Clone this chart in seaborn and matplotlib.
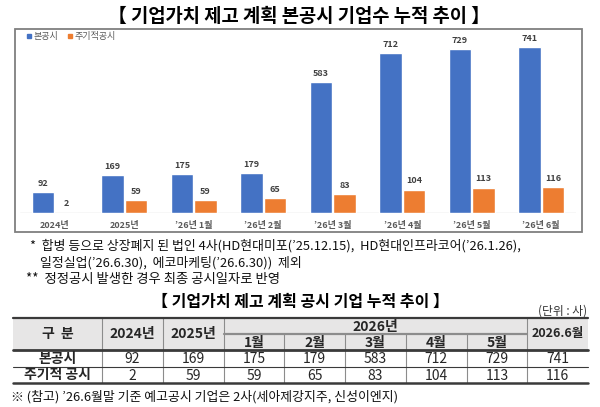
import matplotlib
matplotlib.use("Agg")
import matplotlib.pyplot as plt
import matplotlib.patches as mpatches
from matplotlib.lines import Line2D
import seaborn as sns
import pandas as pd

# ---------------- data ----------------
categories = ["2024년", "2025년", "’26년 1월", "’26년 2월", "’26년 3월", "’26년 4월", "’26년 5월", "’26년 6월"]
series_names = ["본공시", "주기적공시"]
main_values = [92, 169, 175, 179, 583, 712, 729, 741]
periodic_values = [2, 59, 59, 65, 83, 104, 113, 116]

table_row_labels = ["본공시", "주기적 공시"]
table_year_cols = ["2024년", "2025년"]
table_month_cols = ["1월", "2월", "3월", "4월", "5월"]
table_last_col = "2026.6월"
table_group_label = "2026년"
table_main = [92, 169, 175, 179, 583, 712, 729, 741]
table_periodic = [2, 59, 59, 65, 83, 104, 113, 116]

chart_title = "【 기업가치 제고 계획 본공시 기업수 누적 추이 】"
table_title = "【 기업가치 제고 계획 공시 기업 누적 추이 】"
foot1 = "*  합병 등으로 상장폐지 된 법인 4사(HD현대미포(’25.12.15),  HD현대인프라코어(’26.1.26),"
foot2 = "일정실업(’26.6.30),  에코마케팅(’26.6.30))  제외"
foot3 = "**  정정공시 발생한 경우 최종 공시일자로 반영"
unit_text = "(단위 : 사)"
bottom_note = "※ (참고) ’26.6월말 기준 예고공시 기업은 2사(세아제강지주, 신성이엔지)"

# ---------------- style ----------------
sns.set_theme(style="white")
plt.rcParams["font.family"] = ["Noto Sans CJK KR", "DejaVu Sans"]

BLUE = "#4472C4"
ORANGE = "#ED7D31"
W, H = 600, 407

fig = plt.figure(figsize=(W / 100, H / 100), dpi=100)
fig.patch.set_facecolor("white")

# overlay axes in pixel coordinates for the text / table layout
ov = fig.add_axes([0, 0, 1, 1], zorder=0)
ov.set_xlim(0, W)
ov.set_ylim(H, 0)
ov.axis("off")

# ---------------- chart ----------------
ax = fig.add_axes([20 / W, (H - 213) / H, 556 / W, 184 / H], zorder=2)
ax.patch.set_alpha(0)

df = pd.DataFrame({
    "구분": categories * 2,
    "값": main_values + periodic_values,
    "공시": [series_names[0]] * len(categories) + [series_names[1]] * len(categories),
})
sns.barplot(data=df, x="구분", y="값", hue="공시", palette=[BLUE, ORANGE],
            width=0.68, gap=0.06, saturation=1, legend=False, ax=ax)

for cont in ax.containers:
    ax.bar_label(cont, fmt="%d", padding=3, fontsize=6.5, fontweight="bold", color="#404040")

ax.set_xlim(-0.5, len(categories) - 0.5)
ax.set_ylim(0, 820)
ax.set_yticks([])
ax.set_xlabel("")
ax.set_ylabel("")
for s in ax.spines.values():
    s.set_visible(False)
ax.axhline(0, color="#d9d9d9", lw=1, zorder=0)
ax.tick_params(axis="x", length=0, pad=6, labelsize=6.5, labelcolor="#595959")
for lab in ax.get_xticklabels():
    lab.set_fontweight("bold")

handles = [Line2D([], [], marker="s", linestyle="", color=c, markersize=3.5) for c in (BLUE, ORANGE)]
ax.legend(handles, series_names, loc="upper left", bbox_to_anchor=(26 / W, 1 - 32 / H),
          bbox_transform=fig.transFigure, ncol=2, frameon=False, fontsize=6.5,
          handlelength=0.6, handletextpad=0.2, columnspacing=1.0, labelcolor="#595959",
          borderaxespad=0, borderpad=0)

# chart frame
ov.add_patch(mpatches.Rectangle((15, 29), 567, 203, fill=False, edgecolor="#7f7f7f", lw=1.3))

# titles and footnotes
ov.text(299, 16, chart_title, ha="center", va="center", fontsize=13.5, fontweight="bold", color="#000000")
ov.text(30, 246, foot1, ha="left", va="center", fontsize=9.3, color="#111111")
ov.text(40, 263, foot2, ha="left", va="center", fontsize=9.3, color="#111111")
ov.text(26, 279, foot3, ha="left", va="center", fontsize=9.6, color="#111111")

ov.text(300, 302, table_title, ha="center", va="center", fontsize=11.5, fontweight="bold", color="#000000")
ov.text(587, 311, unit_text, ha="right", va="center", fontsize=8.5, color="#333333")

# ---------------- table ----------------
ncols = 1 + len(table_year_cols) + len(table_month_cols) + 1
x_edges = [13, 102] + [102 + (588 - 102) / (ncols - 1) * i for i in range(1, ncols)]
y_top, y_mid, y_head, y_r1, y_r2 = 318, 334, 350, 367, 383

ov.add_patch(mpatches.Rectangle((x_edges[0], y_top), x_edges[-1] - x_edges[0], y_head - y_top,
                                facecolor="#e7e6e6", edgecolor="none", zorder=1))
dark = "#3a3a3a"
grey = "#8c8c8c"
ov.plot([x_edges[0], x_edges[-1]], [y_top, y_top], color=dark, lw=1.6, zorder=3)
ov.plot([x_edges[0], x_edges[-1]], [y_head, y_head], color=dark, lw=2.0, zorder=3)
ov.plot([x_edges[0], x_edges[-1]], [y_r1, y_r1], color=dark, lw=0.8, zorder=3)
ov.plot([x_edges[0], x_edges[-1]], [y_r2, y_r2], color=dark, lw=1.8, zorder=3)
m0 = 1 + len(table_year_cols)
m1 = m0 + len(table_month_cols)
ov.plot([x_edges[m0], x_edges[m1]], [y_mid, y_mid], color=grey, lw=1.6, zorder=3)

for i in range(1, ncols):
    if m0 < i < m1:
        ov.plot([x_edges[i], x_edges[i]], [y_mid, y_r2], color=grey, lw=0.8, zorder=2)
    else:
        ov.plot([x_edges[i], x_edges[i]], [y_top, y_r2], color=grey, lw=0.8, zorder=2)

def cx(i):
    return (x_edges[i] + x_edges[i + 1]) / 2

FS = 10
hy = (y_top + y_head) / 2
ov.text(cx(0), hy, "구  분", ha="center", va="center", fontsize=FS, fontweight="bold", zorder=4)
for j, lab in enumerate(table_year_cols):
    ov.text(cx(1 + j), hy, lab, ha="center", va="center", fontsize=FS, fontweight="bold", zorder=4)
ov.text((x_edges[m0] + x_edges[m1]) / 2, (y_top + y_mid) / 2 + 0.5, table_group_label,
        ha="center", va="center", fontsize=FS, fontweight="bold", zorder=4)
for j, lab in enumerate(table_month_cols):
    ov.text(cx(m0 + j), (y_mid + y_head) / 2 + 0.5, lab, ha="center", va="center",
            fontsize=FS, fontweight="bold", zorder=4)
ov.text(cx(ncols - 1), hy, table_last_col, ha="center", va="center", fontsize=9,
        fontweight="bold", zorder=4)

rows = [table_main, table_periodic]
row_y = [(y_head + y_r1) / 2, (y_r1 + y_r2) / 2]
for r, (lab, vals) in enumerate(zip(table_row_labels, rows)):
    ov.text(cx(0), row_y[r] + 0.5, lab, ha="center", va="center", fontsize=FS, fontweight="bold", zorder=4)
    for j, v in enumerate(vals):
        ov.text(cx(1 + j), row_y[r] + 0.5, f"{v}", ha="center", va="center", fontsize=FS, zorder=4)

ov.text(11, 397, bottom_note, ha="left", va="center", fontsize=9.3, color="#111111")

fig.savefig("out.png", dpi=100)
